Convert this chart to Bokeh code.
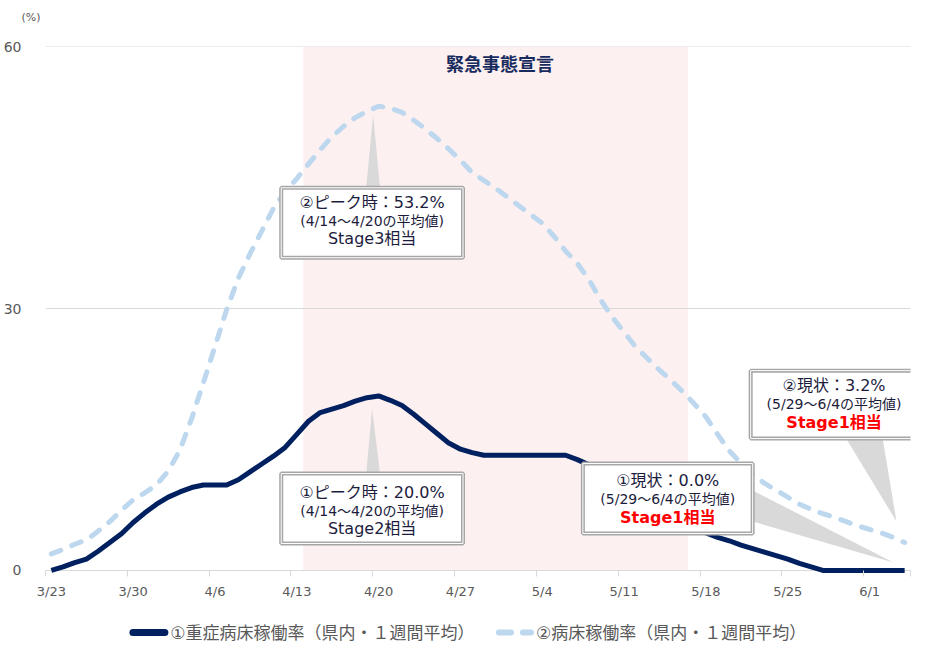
import pandas as pd
from bokeh.plotting import figure
from bokeh.layouts import column
from bokeh.models import Range1d, FixedTicker, BoxAnnotation
from bokeh.core.properties import value
from bokeh.embed import file_html
from bokeh.resources import INLINE

# ---------------- data ----------------
dates = [f"{d.month}/{d.day}" for d in pd.date_range("2020-03-23", "2020-06-04")]

severe_rate = [0.0, 0.4, 0.9, 1.3, 2.2, 3.2, 4.2, 5.5, 6.6, 7.6,
               8.4, 9.0, 9.5, 9.8, 9.8, 9.8, 10.4, 11.3, 12.2, 13.1,
               14.1, 15.6, 17.1, 18.1, 18.5, 18.9, 19.4, 19.8, 20.0, 19.5,
               18.9, 17.9, 16.8, 15.7, 14.6, 13.9, 13.5, 13.2, 13.2, 13.2,
               13.2, 13.2, 13.2, 13.2, 13.2, 12.7, 12.1, 11.3, 10.5, 9.7,
               8.9, 8.2, 7.4, 6.6, 5.8, 5.1, 4.3, 3.8, 3.4, 2.9,
               2.5, 2.1, 1.7, 1.3, 0.8, 0.4, 0.0, 0.0, 0.0, 0.0,
               0.0, 0.0, 0.0, 0.0]

bed_rate = [1.9, 2.4, 3.0, 3.5, 4.5, 5.6, 6.9, 8.1, 8.9, 9.8,
            11.4, 13.8, 17.4, 21.5, 25.7, 29.9, 33.5, 36.3, 38.9, 41.5,
            43.4, 44.9, 46.6, 48.2, 49.7, 50.9, 51.9, 52.6, 53.2, 53.0,
            52.5, 51.6, 50.6, 49.5, 48.3, 47.0, 45.6, 44.7, 43.8, 42.8,
            41.8, 40.8, 39.8, 38.3, 36.6, 35.2, 33.3, 31.0, 29.0, 27.3,
            25.6, 24.3, 23.0, 21.8, 20.5, 19.1, 17.6, 15.6, 13.7, 12.3,
            11.0, 10.0, 9.2, 8.4, 7.6, 7.0, 6.5, 6.1, 5.6, 5.1,
            4.7, 4.3, 3.8, 3.2]

tick_labels = ["3/23", "3/30", "4/6", "4/13", "4/20", "4/27",
               "5/4", "5/11", "5/18", "5/25", "6/1"]
y_ticks = [0, 30, 60]

series_names = ["①重症病床稼働率（県内・１週間平均）", "②病床稼働率（県内・１週間平均）"]
series_colors = ["#002060", "#BDD7EE"]
emergency_label = "緊急事態宣言"
emergency_start, emergency_end = "4/14", "5/16"
unit_label = "(%)"

callout_texts = {
    "peak2": ["②ピーク時：53.2%", "(4/14～4/20の平均値)", "Stage3相当"],
    "peak1": ["①ピーク時：20.0%", "(4/14～4/20の平均値)", "Stage2相当"],
    "now1": ["①現状：0.0%", "(5/29～6/4の平均値)", "Stage1相当"],
    "now2": ["②現状：3.2%", "(5/29～6/4の平均値)", "Stage1相当"],
}

idx = list(range(len(dates)))

# ---------------- styling helpers ----------------
CJK = "DejaVu Sans, Noto Sans CJK JP"
FONT = value(CJK)
TXT = "#1C1C3C"
GRAY = "#595959"
W = 926
FL, FR = 44, 910          # frame left / right in page pixels
TOP_H, MAIN_H, LEG_H = 30, 575, 46


def dx(px):
    return (px - FL) / 11.703 - 0.5


def dy(py):
    return (570 - py) / 8.733


def strip_fig(h):
    f = figure(width=W, height=h, output_backend="svg", toolbar_location=None,
               x_range=Range1d(FL, FR), y_range=Range1d(0, h),
               x_axis_location=None,
               min_border_left=FL, min_border_right=W - FR, min_border_top=0, min_border_bottom=0)
    f.outline_line_color = None
    f.xgrid.visible = False
    f.ygrid.visible = False
    f.yaxis.axis_line_color = None
    f.yaxis.major_tick_line_color = None
    f.yaxis.minor_tick_line_color = None
    f.yaxis.major_label_text_font_size = "0px"
    f.yaxis.ticker = FixedTicker(ticks=[])
    return f


# ---------------- top strip: unit label (as an axis label at the top left) ----------------
top = strip_fig(TOP_H)
top.yaxis.ticker = FixedTicker(ticks=[TOP_H - 17])
top.yaxis.major_label_overrides = {TOP_H - 17: unit_label}
top.yaxis.major_label_text_font = "DejaVu Sans"
top.yaxis.major_label_text_font_size = "11px"
top.yaxis.major_label_text_color = GRAY
top.yaxis.major_tick_out = 0
top.yaxis.major_tick_in = 0
top.yaxis.major_label_standoff = 5

# ---------------- main chart ----------------
p = figure(width=W, height=MAIN_H, output_backend="svg", toolbar_location=None,
           x_range=Range1d(-0.5, len(dates) - 0.5), y_range=Range1d(-0.35, 60.05),
           min_border_left=FL, min_border_right=W - FR, min_border_top=16, min_border_bottom=32)
p.outline_line_color = None
p.background_fill_color = "white"
p.border_fill_color = "white"

# emergency period shading
p.add_layout(BoxAnnotation(left=dates.index(emergency_start) - 0.45,
                           right=dates.index(emergency_end) + 0.45,
                           bottom=0, top=60, fill_color="#FDF0F0", fill_alpha=1,
                           line_alpha=0, level="image"))

# axes
label_pos = [dates.index(t) for t in tick_labels]
xt = FixedTicker(ticks=label_pos, minor_ticks=[i - 0.5 for i in label_pos] + [len(dates) - 0.5])
p.xaxis.ticker = xt
p.xaxis.major_label_overrides = {i: t for i, t in zip(label_pos, tick_labels)}
p.xaxis.axis_line_color = None
p.xaxis.major_tick_line_color = None
p.xaxis.minor_tick_line_color = "#D9D9D9"
p.xaxis.minor_tick_in = 3
p.xaxis.minor_tick_out = 3
p.xaxis.major_tick_out = 0
p.xaxis.major_tick_in = 0
p.xaxis.major_label_standoff = 7
p.xaxis.major_label_text_font = "DejaVu Sans"
p.xaxis.major_label_text_font_size = "13px"
p.xaxis.major_label_text_color = GRAY

p.yaxis.ticker = FixedTicker(ticks=y_ticks)
p.yaxis.axis_line_color = None
p.yaxis.major_tick_line_color = None
p.yaxis.minor_tick_line_color = None
p.yaxis.major_tick_out = 0
p.yaxis.major_label_standoff = 24
p.yaxis.major_label_text_font = "DejaVu Sans"
p.yaxis.major_label_text_font_size = "14px"
p.yaxis.major_label_text_color = GRAY

p.xgrid.grid_line_color = None
p.ygrid.ticker = FixedTicker(ticks=y_ticks)
p.ygrid.grid_line_color = "#D9D9D9"
p.ygrid.grid_line_width = 1

# lines
p.line(idx, bed_rate, line_color=series_colors[1], line_width=5, line_dash="10 12",
       line_cap="round", line_join="round")
p.line(idx, severe_rate, line_color=series_colors[0], line_width=5, line_join="round")

# callout pointers
wedges_x = [
    [dx(365), dx(379), dx(372)],
    [dx(365), dx(379), dx(371)],
    [dx(752), dx(752), dx(893)],
    [dx(845), dx(882), dx(896)],
]
wedges_y = [
    [dy(188), dy(188), dy(114)],
    [dy(474), dy(474), dy(408)],
    [dy(490), dy(521), dy(562)],
    [dy(437), dy(437), dy(521)],
]
p.patches(wedges_x, wedges_y, fill_color="#D9D9D9", line_alpha=0)

# callout boxes (px extents)
boxes = {
    "peak2": (280, 462, 187, 257, 371, [202, 220, 238]),
    "peak1": (280, 462, 473, 543, 371, [492, 510, 528]),
    "now1": (582, 752, 463, 533, 667, [480, 498, 517]),
    "now2": (750, 917, 370, 438, 833.5, [385, 403, 422]),
}
for key, (l, r, t, b, cx, ys) in boxes.items():
    p.quad(left=[dx(l)], right=[dx(r)], top=[dy(t)], bottom=[dy(b)],
           fill_color="white", line_color="#A6A6A6", line_width=4)
    p.quad(left=[dx(l)], right=[dx(r)], top=[dy(t)], bottom=[dy(b)],
           fill_alpha=0, line_color="white", line_width=1)
    lines = callout_texts[key]
    p.text(x=[dx(cx)], y=[dy(ys[0])], text=[lines[0]], text_font=FONT,
           text_font_size="16px", text_color=TXT, text_align="center", text_baseline="middle")
    p.text(x=[dx(cx)], y=[dy(ys[1])], text=[lines[1]], text_font=FONT,
           text_font_size="14px", text_color=TXT, text_align="center", text_baseline="middle")
    red = key.startswith("now")
    p.text(x=[dx(cx)], y=[dy(ys[2])], text=[lines[2]], text_font=FONT,
           text_font_size="16px", text_color="#FF0000" if red else TXT,
           text_font_style="bold" if red else "normal",
           text_align="center", text_baseline="middle")

# emergency label
p.text(x=[dx(499)], y=[dy(62)], text=[emergency_label], text_font=value("Noto Sans CJK JP"),
       text_font_size="18px", text_font_style="bold", text_color="#172B5E",
       text_align="center", text_baseline="middle")

# ---------------- legend strip (x in page pixels) ----------------
leg = strip_fig(LEG_H)
ly = LEG_H - 27
leg.segment(x0=[131.5], x1=[163.5], y0=[ly], y1=[ly], line_color=series_colors[0],
            line_width=7, line_cap="round")
leg.text(x=[169], y=[ly], text=[series_names[0]], text_font=FONT, text_font_size="17px",
         text_color=GRAY, text_align="left", text_baseline="middle")
leg.segment(x0=[498], x1=[530], y0=[ly], y1=[ly], line_color=series_colors[1],
            line_width=6, line_cap="round", line_dash="12 12")
leg.text(x=[535], y=[ly], text=[series_names[1]], text_font=FONT, text_font_size="17px",
         text_color=GRAY, text_align="left", text_baseline="middle")

layout = column(top, p, leg, spacing=0)
open("out.html", "w").write(file_html(layout, INLINE))
